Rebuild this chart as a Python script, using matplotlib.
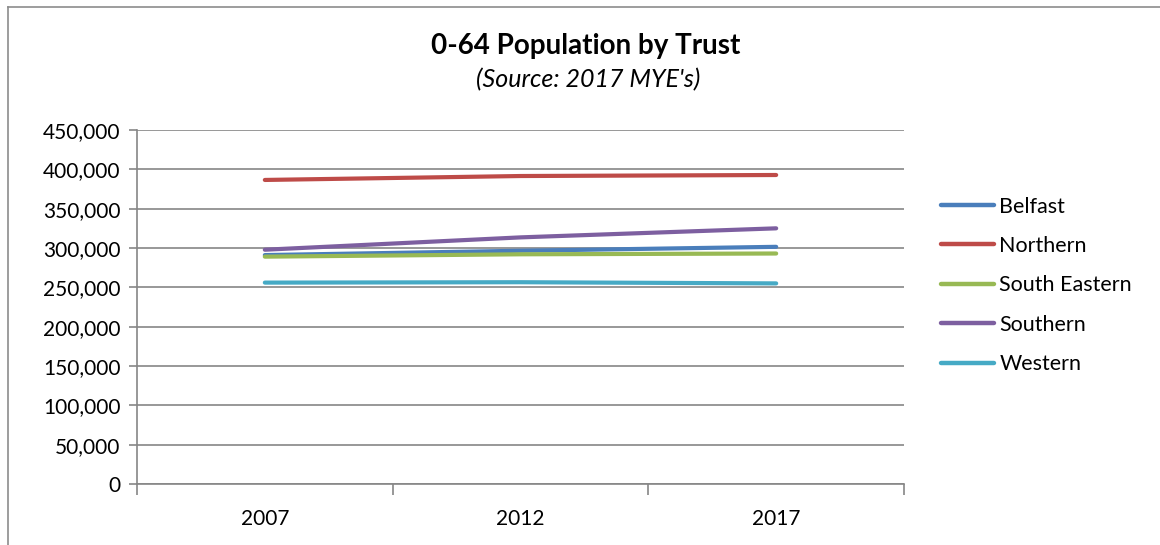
import matplotlib
matplotlib.use("Agg")
import matplotlib.pyplot as plt
from matplotlib.lines import Line2D
from matplotlib.ticker import FuncFormatter, FixedLocator

plt.rcParams['font.family'] = ['Lato', 'DejaVu Sans']

years = ['2007', '2012', '2017']
trusts = ['Belfast', 'Northern', 'South Eastern', 'Southern', 'Western']
belfast = [291000, 296500, 301500]
northern = [386500, 391500, 392800]
south_eastern = [289000, 292000, 293000]
southern = [297800, 313500, 325000]
western = [256000, 256500, 255000]

colours = {
    'Belfast': '#4a7ebb',
    'Northern': '#be4b48',
    'South Eastern': '#98b954',
    'Southern': '#7d5fa0',
    'Western': '#46aac5',
}
series = dict(zip(trusts, [belfast, northern, south_eastern, southern, western]))

fig = plt.figure(figsize=(11.6, 5.45), dpi=100)
ax = fig.add_axes([137 / 1160, 1 - 484 / 545, (904 - 137) / 1160, (484 - 130) / 545])

# outer chart frame (only left and top edges are visible in the crop)
fig.add_artist(Line2D([8 / 1160, 8 / 1160], [0, 1 - 7 / 545], transform=fig.transFigure,
                      color='#8c8c8c', lw=1.2))
fig.add_artist(Line2D([8 / 1160, 1], [1 - 7 / 545, 1 - 7 / 545], transform=fig.transFigure,
                      color='#8c8c8c', lw=1.2))

x = list(range(len(years)))
for name in trusts:
    ax.plot(x, series[name], color=colours[name], lw=3.0, solid_capstyle='round',
            label=name, zorder=3)

ax.set_xlim(-0.5, len(years) - 0.5)
ax.set_ylim(0, 450000)
ax.set_yticks(range(0, 450001, 50000))
ax.yaxis.set_major_formatter(FuncFormatter(lambda v, p: f"{int(v):,}"))
ax.set_xticks(x)
ax.set_xticklabels(years)
ax.xaxis.set_minor_locator(FixedLocator([i - 0.5 for i in range(len(years) + 1)]))
ax.tick_params(axis='x', which='major', length=0, pad=18, labelsize=15)
ax.tick_params(axis='x', which='minor', length=8, width=1.2, color='#868686', direction='out')
ax.tick_params(axis='y', length=6, width=1.2, color='#868686', direction='out', pad=6, labelsize=15)

ax.grid(axis='y', color='#868686', lw=1.2, zorder=0)
for side in ['top', 'right']:
    ax.spines[side].set_visible(False)
for side in ['left', 'bottom']:
    ax.spines[side].set_color('#868686')
    ax.spines[side].set_linewidth(1.2)

fig.text(586 / 1160, 1 - 54 / 545, '0-64 Population by Trust', ha='center', va='baseline',
         fontsize=20, fontweight='bold')
fig.text(588 / 1160, 1 - 87 / 545, "(Source: 2017 MYE's)", ha='center', va='baseline',
         fontsize=18, style='italic')

leg = fig.legend(loc='upper left', bbox_to_anchor=(932 / 1160, 1 - 188 / 545),
                 frameon=False, fontsize=15.5, handlelength=2.5, handletextpad=0.23,
                 labelspacing=0.9, borderaxespad=0)
for h in leg.get_lines():
    h.set_linewidth(3.2)

fig.savefig('out.png', dpi=100)
